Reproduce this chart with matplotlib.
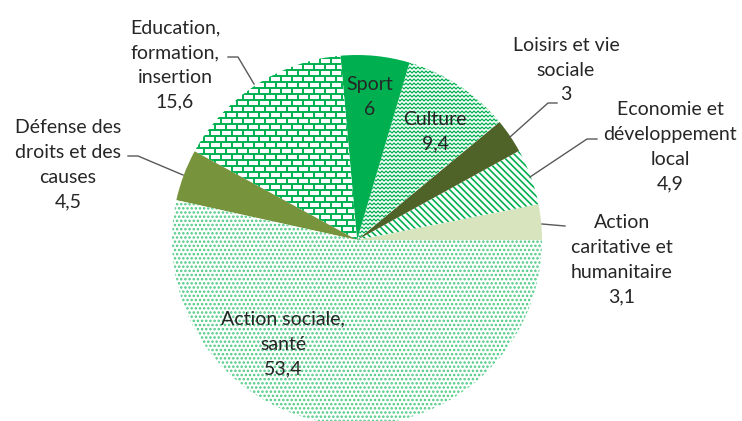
import numpy as np
import matplotlib
matplotlib.use("Agg")
import matplotlib.pyplot as plt
from matplotlib.collections import LineCollection

plt.rcParams.update({
    "font.family": ["Lato", "DejaVu Sans"],
    "hatch.linewidth": 1.2,
})

# data (counter-clockwise from 3 o'clock)
names = [
    "Action\ncaritative et\nhumanitaire",
    "Economie et\ndéveloppement\nlocal",
    "Loisirs et vie\nsociale",
    "Culture",
    "Sport",
    "Education,\nformation,\ninsertion",
    "Défense des\ndroits et des\ncauses",
    "Action sociale,\nsanté",
]
values = [3.1, 4.9, 3.0, 9.4, 6.0, 15.6, 4.5, 53.4]
value_txt = ["3,1", "4,9", "3", "9,4", "6", "15,6", "4,5", "53,4"]

W, H = 742, 421
GREEN = "#00b050"
TXT = "#262626"


def Y(y):
    # image row -> data y
    return H - y


fig = plt.figure(figsize=(W / 100, H / 100), dpi=100)
ax = fig.add_axes([0, 0, 1, 1])

cx, cy, r = 357, 240, 185
wedges, _ = ax.pie(values, startangle=0, counterclock=True,
                   center=(cx, Y(cy)), radius=r, frame=True,
                   wedgeprops=dict(linewidth=0))

styles = [
    dict(fc="#d7e4bd"),
    dict(fc="white", hatch="\\\\\\\\\\", hc=GREEN),
    dict(fc="#4f6228"),
    dict(fc="white"),
    dict(fc=GREEN),
    dict(fc="white"),
    dict(fc="#77933c"),
    dict(fc="white", hatch="....", hc="#4cc983"),
]
for w, st in zip(wedges, styles):
    w.set_facecolor(st["fc"])
    w.set_linewidth(0)
    if "hatch" in st:
        w.set_edgecolor(st["hc"])
        w.set_hatch(st["hatch"])

# zigzag pattern for Culture
segs = []
for y0 in np.arange(40, 250, 4.0):
    xs = np.arange(350, 560, 2.0)
    ys = y0 + np.where((np.arange(len(xs)) % 2) == 0, -1.0, 1.0)
    segs.append(np.column_stack([xs, Y(ys)]))
lc = LineCollection(segs, colors=GREEN, linewidths=0.9)
ax.add_collection(lc)
lc.set_clip_path(wedges[3])

# brick pattern for Education
segs = []
rows = np.arange(40, 250, 6.0)
for k, y0 in enumerate(rows):
    segs.append([(160, Y(y0)), (370, Y(y0))])
    off = 5.5 if k % 2 else 0.0
    for x0 in np.arange(160 + off, 370, 11.0):
        segs.append([(x0, Y(y0)), (x0, Y(y0 + 6))])
lc = LineCollection(segs, colors=GREEN, linewidths=1.4)
ax.add_collection(lc)
lc.set_clip_path(wedges[5])

# labels
label_pos = [(622, 260), (670, 147), (566, 70), (435, 132),
             (370, 97), (175, 65), (68, 165), (283, 344)]
for name, v, (x, y) in zip(names, value_txt, label_pos):
    ax.text(x, Y(y), name + "\n" + v, ha="center", va="center",
            fontsize=14, color=TXT, linespacing=1.55)

# leader lines
leaders = [
    [(565, 226), (542, 224)],
    [(597, 139), (587, 139), (530, 177)],
    [(557, 103), (548, 103), (510, 137)],
    [(228, 57), (238, 57), (254, 84)],
    [(128, 156), (138, 156), (183, 175)],
]
for pts in leaders:
    xs = [p[0] for p in pts]
    ys = [Y(p[1]) for p in pts]
    ax.plot(xs, ys, color="#595959", lw=1.0)

ax.set_xlim(0, W)
ax.set_ylim(0, H)
ax.set_aspect("equal")
ax.axis("off")

fig.savefig("out.png", dpi=100, facecolor="white")
